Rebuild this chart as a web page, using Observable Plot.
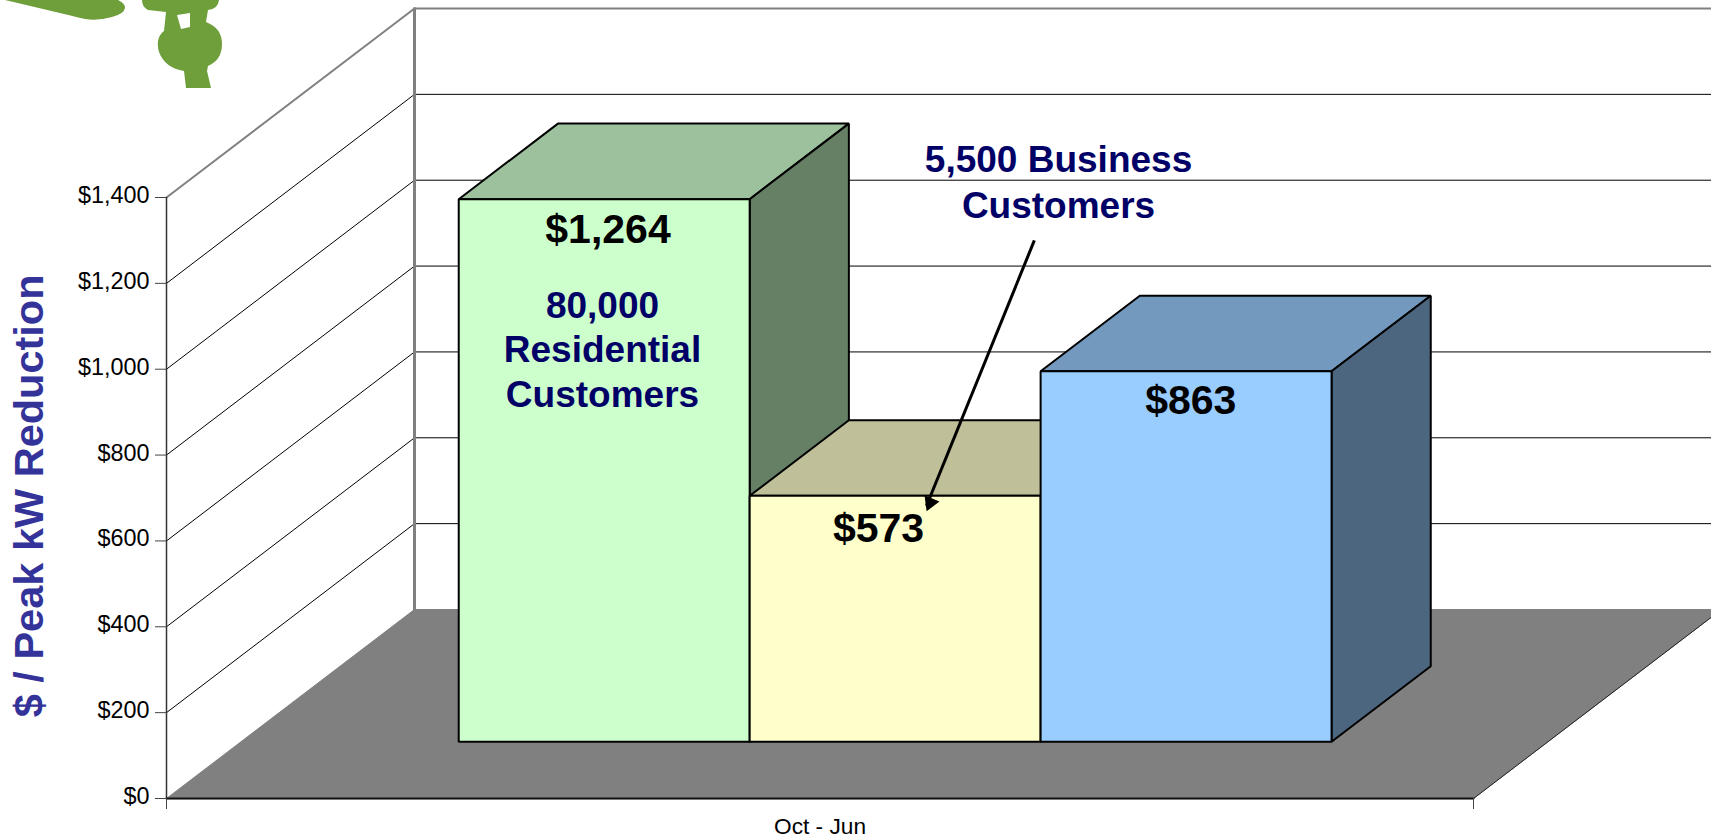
<!DOCTYPE html>
<html>
<head>
<meta charset="utf-8">
<script src="https://cdn.jsdelivr.net/npm/d3@7"></script>
<script src="https://cdn.jsdelivr.net/npm/@observablehq/plot@0.6"></script>
<style>
  html, body { margin: 0; padding: 0; background: #fff; overflow: hidden; }
  #wrap { position: relative; width: 1711px; height: 838px; }
  #logo { position: absolute; left: 0; top: 0; }
</style>
</head>
<body>
<div id="wrap">
<div id="chart"></div>
<svg id="logo" width="240" height="95" viewBox="0 0 240 95">
  <path fill="#6f9f3b" d="M0,0 L118,0 Q125,3 125,8 Q124,14 112,17 Q98,21 85,19 Q60,13 5,0 Z"/>
  <path fill="#6f9f3b" fill-rule="evenodd" d="M142,0 L219,0 Q218,9 208,10 L206,22 Q222,28 222,44 Q222,60 208,66 L207,71 L211,88 L186,88 L184,71 Q165,68 159,52 Q155,38 164,31 L166,12 L148,10 Q142,7 142,0 Z M177,15 L190,13 L190,27 L181,29 Z"/>
</svg>
</div>
<script>
// ---- chart values ----
const categories = ["80,000 Residential Customers", "5,500 Business Customers", "Other"];
const values = [1264, 573, 863];
const valueLabels = ["$1,264", "$573", "$863"];
const yTicks = [0, 200, 400, 600, 800, 1000, 1200, 1400];
const xLabel = "Oct - Jun";
const yTitle = "$ / Peak kW Reduction";
const frontColors = ["#CCFFCC", "#FFFFCC", "#99CCFF"];
const topColors = ["#9DC09D", "#BFBF99", "#7399BF"];
const sideColors = ["#668066", "#808066", "#4D6680"];

// ---- oblique projection of the chart's 3-D box into Plot's x/y data space ----
const depthX = 248 / 1307;   // x units per full depth
const depthY = 189 / (601 / 1400); // y units per full depth
const barsStart = 1 / 6, barWidth = 0.2226, depthFront = 0.3, depthBack = 0.7;
const pt = (u, d, v) => ({x: u + d * depthX, y: v + d * depthY});

const faces = [];
values.forEach((v, i) => {
  const a = barsStart + i * barWidth, b = a + barWidth, f = depthFront, k = depthBack;
  faces.push({fill: topColors[i], pts: [pt(a, f, v), pt(b, f, v), pt(b, k, v), pt(a, k, v)]});
  faces.push({fill: sideColors[i], pts: [pt(b, f, 0), pt(b, k, 0), pt(b, k, v), pt(b, f, v)]});
  faces.push({fill: frontColors[i], pts: [pt(a, f, 0), pt(b, f, 0), pt(b, f, v), pt(a, f, v)]});
});

const floor = [pt(0, 0, 0), pt(0, 1, 0), pt(1, 1, 0), pt(1, 0, 0)];
const gridTicks = yTicks.filter(t => t > 0 && t < 1400);
const topTick = yTicks[yTicks.length - 1];
const wall = v => [pt(0, 0, v), pt(0, 1, v), pt(1, 1, v)];

const labels = [
  {text: valueLabels[0], x: 0.3378, y: 1325, fill: "#000", size: 41},
  {text: "80,000", x: 0.3336, y: 1147, fill: "#000066", size: 37},
  {text: "Residential", x: 0.3336, y: 1045, fill: "#000066", size: 37},
  {text: "Customers", x: 0.3336, y: 940, fill: "#000066", size: 37},
  {text: valueLabels[1], x: 0.5448, y: 628, fill: "#000", size: 41},
  {text: valueLabels[2], x: 0.7837, y: 927, fill: "#000", size: 41},
  {text: "5,500 Business", x: 0.6825, y: 1486, fill: "#000066", size: 37},
  {text: "Customers", x: 0.6825, y: 1381, fill: "#000066", size: 37}
];

const arrowStem = [{x: 0.664, y: 1300}, {x: 0.5815, y: 682}];
const arrowHead = [{x: 0.5843, y: 689}];

const chart = Plot.plot({
  width: 1711,
  height: 838,
  marginLeft: 166,
  marginRight: 238,
  marginTop: 197,
  marginBottom: 40,
  x: {domain: [0, 1], axis: null},
  y: {domain: [0, 1400], axis: null},
  style: {fontFamily: "'Liberation Sans', Arial, sans-serif", background: "white", color: "#000"},
  marks: [
    // floor
    Plot.line(floor, {x: "x", y: "y", curve: "linear-closed", fill: "#808080", stroke: "#808080", strokeWidth: 1}),
    // gridlines on both walls
    ...gridTicks.map(t => Plot.line(wall(t), {x: "x", y: "y", stroke: "#000", strokeWidth: 1})),
    Plot.line(wall(topTick), {x: "x", y: "y", stroke: "#808080", strokeWidth: 2}),
    Plot.line([pt(0, 1, 0), pt(0, 1, topTick)], {x: "x", y: "y", stroke: "#808080", strokeWidth: 3}),
    Plot.line([pt(0, 0, 0), pt(0, 0, topTick)], {x: "x", y: "y", stroke: "#333", strokeWidth: 1.5}),
    // floor edges
    Plot.line([pt(1, 0, 0), pt(1, 1, 0)], {x: "x", y: "y", stroke: "#222", strokeWidth: 1}),
    Plot.line([pt(0, 0, 0), pt(1, 0, 0)], {x: "x", y: "y", stroke: "#111", strokeWidth: 2}),
    // bars
    ...faces.map(f => Plot.line(f.pts, {x: "x", y: "y", curve: "linear-closed", fill: f.fill, stroke: "#000", strokeWidth: 2, strokeLinejoin: "miter"})),
    // axes
    Plot.axisY({ticks: yTicks, tickSize: 11, tickFormat: () => "", label: null, stroke: "#444"}),
    Plot.axisY({ticks: yTicks, tickSize: 0, tickPadding: 17, dy: -2, tickFormat: d => "$" + d3.format(",")(d), fontSize: 23.4, label: null}),
    Plot.axisX({ticks: [0, 1], tickSize: 11, tickFormat: () => "", label: null, stroke: "#444"}),
    Plot.axisX({ticks: [0.5], tickSize: 0, tickPadding: 19, tickFormat: () => xLabel, fontSize: 22.7, label: null}),
    Plot.text([yTitle], {x: [-0.105], y: [705], text: d => d, rotate: -90, fontSize: 41.5, fontWeight: "bold", fill: "#333399"}),
    // text inside the chart
    ...labels.map(l => Plot.text([l], {x: "x", y: "y", text: "text", fill: "fill", fontSize: l.size, fontWeight: "bold"})),
    // leader arrow
    Plot.line(arrowStem, {x: "x", y: "y", stroke: "#000", strokeWidth: 3, strokeLinecap: "butt"}),
    Plot.dot(arrowHead, {x: "x", y: "y", symbol: "triangle", r: 6, fill: "#000", stroke: "none", rotate: 202.5})
  ]
});
document.getElementById("chart").appendChild(chart);
</script>
</body>
</html>
